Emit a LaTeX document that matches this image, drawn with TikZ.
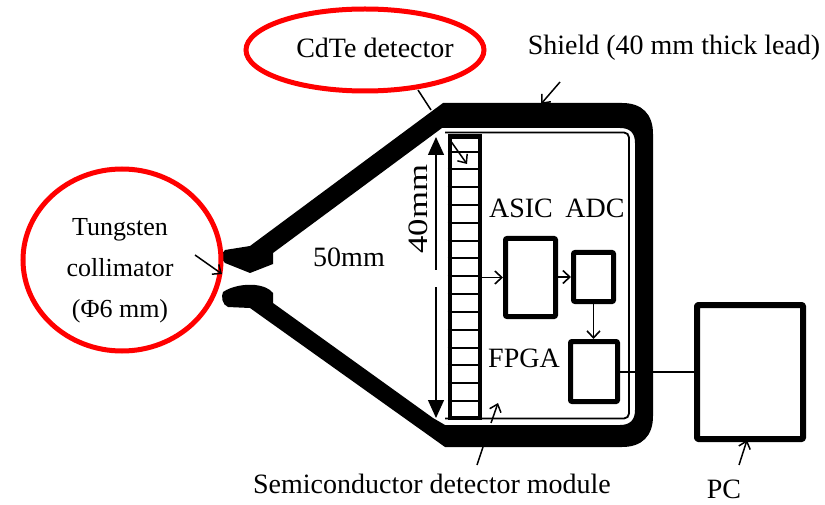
\documentclass[tikz,border=0pt]{standalone}
\usepackage{fontspec}
\setmainfont{Liberation Serif}
\usetikzlibrary{arrows.meta}
\tikzset{
  lbl/.style={inner sep=0pt,font=\fontsize{28}{30}\selectfont,text=black},
  box/.style={draw=black,line width=5pt,fill=white,line join=round,rounded corners=1pt,inner sep=0pt},
  flow/.style={line width=1.8pt,-{Straight Barb[length=7pt,width=13pt,line width=1.6pt]}},
  leader/.style={line width=1.5pt,-{Straight Barb[length=7pt,width=12pt,line width=1.5pt]}}
}
\begin{document}
\begin{tikzpicture}[x=1pt,y=-1pt]
\useasboundingbox (0,0) rectangle (825,505);
% shield
\fill[black] (225,250) -- (250,246) -- (443,103) -- (622,103)
  .. controls (642,103) and (653,114) .. (653,134) -- (653,416)
  .. controls (653,436) and (642,447) .. (622,447) -- (445,447)
  -- (250,308) -- (228,307) .. controls (222,305) and (221,296) .. (223,292)
  .. controls (232,286) and (245,284) .. (255,285)
  .. controls (264,286) and (270,289) .. (273,293) -- (273,303) -- (433,418) -- (445,425) -- (620,425)
  .. controls (630,425) and (635,420) .. (635,410) -- (635,143)
  .. controls (635,133) and (630,128) .. (620,128) -- (442,128) -- (273,253) -- (273,264)
  -- (250,273) -- (225,263) .. controls (221,260) and (221,253) .. (225,250) -- cycle;
% module outline
\draw[line width=1.8pt,rounded corners=5pt] (445,132.5) -- (629,132.5) -- (629,418.5) -- (445,418.5);
% detector
\node[draw=black,line width=4.5pt,fill=white,minimum width=30pt,minimum height=281pt,inner sep=0pt,anchor=north west] (det) at (447.5,134.5) {};
\foreach \i in {0,...,14}
  \draw[line width=2pt] (det.west |- 0,{151.7+\i*17.8}) -- (det.east |- 0,{151.7+\i*17.8});
% dimension
\coordinate (dimtop) at (436,137);
\coordinate (dimbot) at (436,418);
\draw[line width=1.4pt,{Triangle[length=18pt,width=16pt]}-{Triangle[length=18pt,width=16pt]}] (dimtop) -- (dimbot);
\fill[white] (430,270) rectangle (441,287);
\node[lbl,rotate=90] (d40) at (418,209) {\scalebox{1.24}[1]{40mm}};
\node[lbl] (d50) at (349,257) {50mm};
% boxes
\node[box,minimum width=50pt,minimum height=78pt,anchor=north west] (asic) at (503,236) {};
\node[box,minimum width=40pt,minimum height=49pt,anchor=north west] (adc) at (571,250) {};
\node[box,minimum width=47pt,minimum height=60pt,anchor=north west] (fpga) at (568,339) {};
\node[box,line width=6pt,minimum width=106pt,minimum height=134pt,anchor=north west] (pc) at (694,302) {};
\node[lbl] (tasic) at (521,208) {ASIC};
\node[lbl] (tadc) at (595,208) {ADC};
\node[lbl] (tfpga) at (524,358) {FPGA};
% flows
\draw[flow] (det.east |- asic.west) -- (asic.west);
\draw[flow] (asic.east |- adc.west) -- (adc.west);
\draw[flow] (adc.south) -- (adc.south |- fpga.north);
\draw[line width=2pt] (fpga.east) -- (pc.west |- fpga.east);
% red rings
\draw[red,line width=5pt] (365,50) ellipse [x radius=119,y radius=41];
\draw[red,line width=5pt] (122,260) ellipse [x radius=99,y radius=91];
% labels
\node[lbl] (cdte) at (375,48) {CdTe detector};
\node[lbl] (shield) at (674,48) {Shield (40 mm thick lead)};
\node[lbl,align=center,font=\fontsize{26}{41}\selectfont] (tung) at (120,271) {Tungsten\\collimator\\(Φ6 mm)};
\node[lbl] (semi) at (432,484) {Semiconductor detector module};
\node[lbl] (pclab) at (724,489) {PC};
% leaders
\coordinate (a1) at (418,90); \coordinate (a2) at (431,110);
\draw[line width=1.5pt] (a1) -- (a2);
\coordinate (a3) at (450,140); \coordinate (a4) at (467,164);
\draw[leader] (a3) -- (a4);
\coordinate (b1) at (560,82); \coordinate (b2) at (541,104);
\draw[leader] (b1) -- (b2);
\coordinate (c1) at (195,255); \coordinate (c2) at (222,274);
\draw[leader] (c1) -- (c2);
\coordinate (e1) at (477,465); \coordinate (e2) at (483,447);
\draw[line width=1.5pt] (e1) -- (e2);
\coordinate (e3) at (491,423); \coordinate (e4) at (498,403);
\draw[leader] (e3) -- (e4);
\coordinate (f1) at (739,465); \coordinate (f2) at (747,440);
\draw[leader] (f1) -- (f2);
\end{tikzpicture}
\end{document}
